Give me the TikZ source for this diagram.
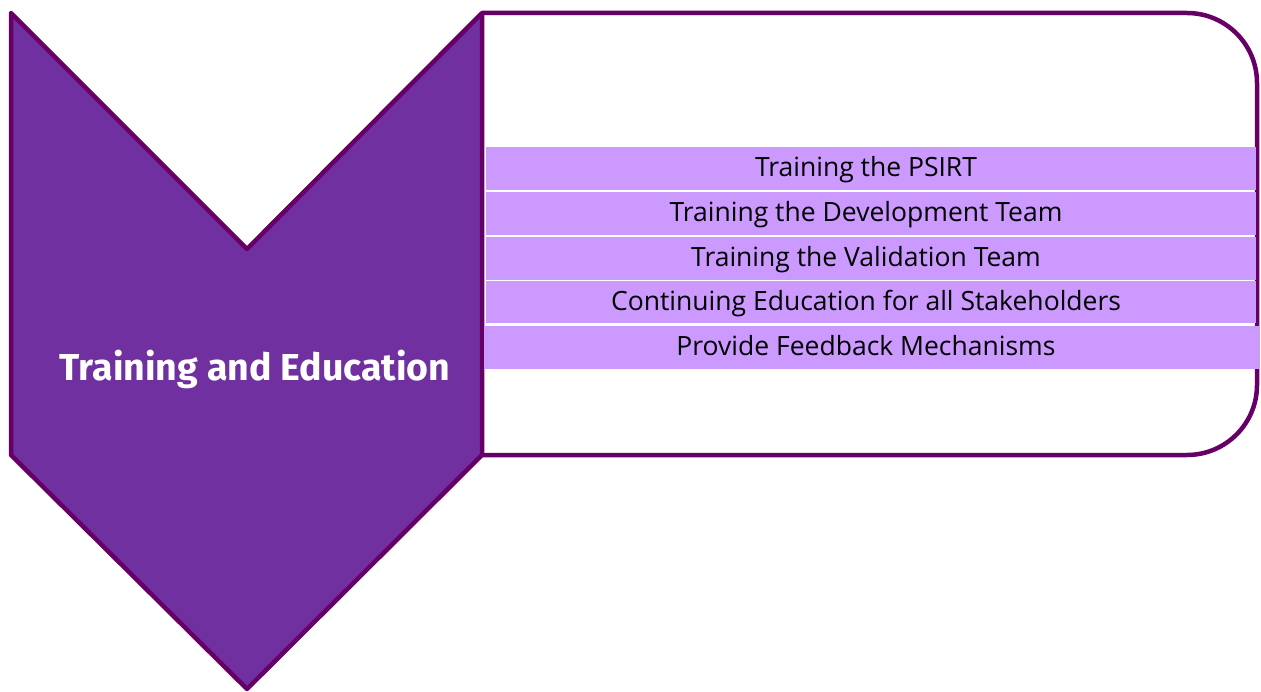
\documentclass[tikz,border=0pt]{standalone}
\usepackage{fontspec}
\setmainfont{Open Sans}
\newfontfamily\titlefont{Fira Sans}
\definecolor{chevfill}{HTML}{7030A0}
\definecolor{chevline}{HTML}{660066}
\definecolor{bandfill}{HTML}{CC99FF}
\begin{document}
\begin{tikzpicture}[x=1pt,y=-1pt,
  band/.style={fill=bandfill,draw=none,inner sep=0pt,anchor=north west},
  itemtext/.style={font=\fontsize{26.5}{30}\selectfont,text=black,inner sep=0pt,anchor=base},
  titletext/.style={font=\titlefont\bfseries\fontsize{37.5}{44}\selectfont,text=white,inner sep=0pt,anchor=base}]
\useasboundingbox (0,0) rectangle (1261,692);
% right box
\draw[chevline,line width=4.5pt,rounded corners=70pt,fill=white]
  (482,13) -- (1257,13) -- (1257,455) -- (482,455);
% chevron
\draw[chevline,line width=4.5pt,line join=round,fill=chevfill]
  (11,13) -- (247,249) -- (482,13) -- (482,455) -- (247,689) -- (11,455) -- cycle;
% bands
\node[band,minimum width=770pt,minimum height=43pt] (b1) at (486,147) {};
\node[band,minimum width=770pt,minimum height=43pt] (b2) at (486,192) {};
\node[band,minimum width=770pt,minimum height=43pt] (b3) at (486,237) {};
\node[band,minimum width=770pt,minimum height=42pt] (b4) at (486,281) {};
\node[band,minimum width=775pt,minimum height=43pt] (b5) at (484,326) {};
\node[itemtext] (t1) at (866,177) {Training the PSIRT};
\node[itemtext] (t2) at (866,222) {Training the Development Team};
\node[itemtext] (t3) at (866,267) {Training the Validation Team};
\node[itemtext] (t4) at (866,310.5) {Continuing Education for all Stakeholders};
\node[itemtext] (t5) at (866,356) {Provide Feedback Mechanisms};
\node[titletext] (title) at (255,381) {Training and Education};
\end{tikzpicture}
\end{document}
